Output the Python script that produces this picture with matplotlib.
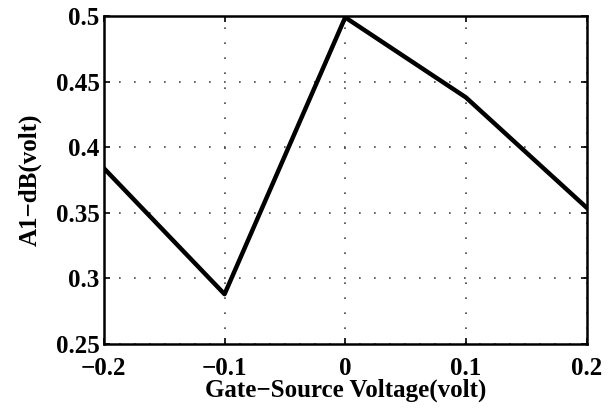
import matplotlib.pyplot as plt

vgs = [-0.2, -0.1, 0.0, 0.1, 0.2]
a1db = [0.384, 0.288, 0.499, 0.438, 0.354]
xticks = [-0.2, -0.1, 0, 0.1, 0.2]
xlabels = ['\u22120.2', '\u22120.1', '0', '0.1', '0.2']
yticks = [0.25, 0.3, 0.35, 0.4, 0.45, 0.5]
ylabels = ['0.25', '0.3', '0.35', '0.4', '0.45', '0.5']

plt.rcParams['font.family'] = 'Liberation Serif'
plt.rcParams['font.weight'] = 'bold'

fig = plt.figure(figsize=(6.11, 4.12), dpi=100)
ax = fig.add_axes([0.170, 0.165, 0.790, 0.796])
ax.plot(vgs, a1db, color='black', linewidth=3.2)
ax.set_xlim(-0.2, 0.2)
ax.set_ylim(0.25, 0.5)
ax.set_xticks(xticks)
ax.set_xticklabels(xlabels)
ax.set_yticks(yticks)
ax.set_yticklabels(ylabels)
ax.grid(True, color='#444444', linewidth=1.2, dashes=(1, 8))
ax.tick_params(direction='in', top=True, right=True, labelsize=18, length=4, width=1.2)
ax.tick_params(axis='x', pad=9)
ax.tick_params(axis='y', pad=3)
for s in ax.spines.values():
    s.set_linewidth(1.8)
ax.set_xlabel('Gate\u2212Source Voltage(volt)', fontsize=18, fontweight='bold', labelpad=-1)
ax.set_ylabel('A1\u2212dB(volt)', fontsize=18, fontweight='bold', labelpad=10)
fig.savefig('out.png', dpi=100)
